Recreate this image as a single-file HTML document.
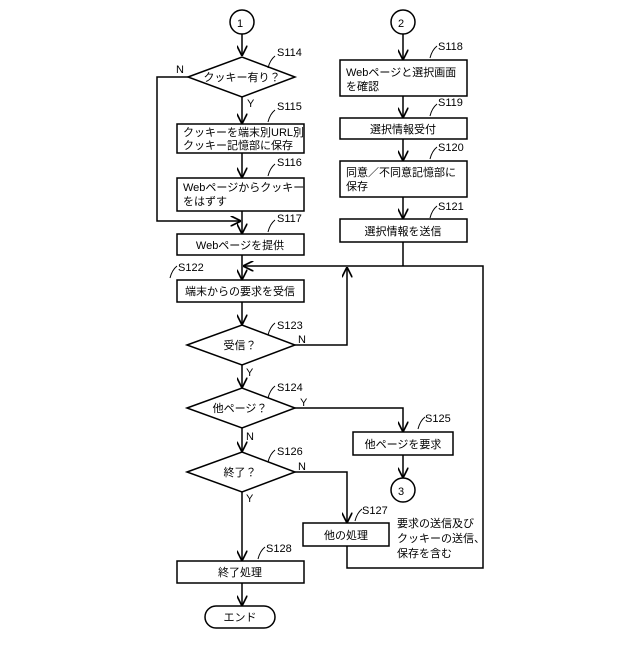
<!DOCTYPE html>
<html><head><meta charset="utf-8"><style>
html,body{margin:0;padding:0;background:#fff}
svg text{font-family:"Liberation Sans","Noto Sans CJK JP",sans-serif;font-size:11px;fill:#000}
</style></head><body>
<svg width="640" height="640" viewBox="0 0 640 640" xmlns="http://www.w3.org/2000/svg">
<defs><marker id="a" viewBox="0 0 10 10" refX="10" refY="5" markerWidth="7" markerHeight="7" orient="auto"><path d="M0,0 L10,5 L0,10" fill="none" stroke="#000" stroke-width="1.6"/></marker></defs>
<g fill="none" stroke="#000" stroke-width="1.5">
<!-- left column -->
<circle cx="242" cy="22" r="12"/>
<line x1="242" y1="34" x2="242" y2="56" marker-end="url(#a)"/>
<polygon points="188,77 242,57 295,77 242,97"/>
<line x1="242" y1="97" x2="242" y2="124" marker-end="url(#a)"/>
<rect x="177" y="124" width="127" height="29"/>
<line x1="242" y1="153" x2="242" y2="178" marker-end="url(#a)"/>
<rect x="177" y="178" width="127" height="33"/>
<polyline points="188,77 157,77 157,221 241,221" marker-end="url(#a)"/>
<line x1="242" y1="211" x2="242" y2="234" marker-end="url(#a)"/>
<rect x="177" y="234" width="127" height="21"/>
<line x1="242" y1="255" x2="242" y2="280" marker-end="url(#a)"/>
<rect x="177" y="280" width="127" height="22"/>
<line x1="242" y1="302" x2="242" y2="325" marker-end="url(#a)"/>
<polygon points="187,345 242,325 295,345 242,365"/>
<polyline points="295,345 347,345 347,267" marker-end="url(#a)"/>
<line x1="242" y1="365" x2="242" y2="388" marker-end="url(#a)"/>
<polygon points="187,408 242,388 295,408 242,428"/>
<polyline points="295,408 403,408 403,432" marker-end="url(#a)"/>
<rect x="353" y="432" width="100" height="23"/>
<line x1="403" y1="455" x2="403" y2="478" marker-end="url(#a)"/>
<circle cx="403" cy="490" r="12"/>
<line x1="242" y1="428" x2="242" y2="452" marker-end="url(#a)"/>
<polygon points="187,472 242,452 295,472 242,492"/>
<polyline points="295,472 347,472 347,523" marker-end="url(#a)"/>
<rect x="303" y="523" width="86" height="23"/>
<polyline points="347,546 347,568 483,568 483,266 243,266" marker-end="url(#a)"/>
<line x1="242" y1="492" x2="242" y2="561" marker-end="url(#a)"/>
<rect x="177" y="561" width="127" height="22"/>
<line x1="242" y1="583" x2="242" y2="606" marker-end="url(#a)"/>
<rect x="205" y="606" width="70" height="22" rx="11"/>
<!-- right column -->
<circle cx="403" cy="22" r="12"/>
<line x1="403" y1="34" x2="403" y2="60" marker-end="url(#a)"/>
<rect x="340" y="60" width="127" height="36"/>
<line x1="403" y1="96" x2="403" y2="118" marker-end="url(#a)"/>
<rect x="340" y="118" width="127" height="21"/>
<line x1="403" y1="139" x2="403" y2="161" marker-end="url(#a)"/>
<rect x="340" y="161" width="127" height="36"/>
<line x1="403" y1="197" x2="403" y2="219" marker-end="url(#a)"/>
<rect x="340" y="219" width="127" height="23"/>
<line x1="403" y1="242" x2="403" y2="266"/>
</g>
<g fill="none" stroke="#000" stroke-width="1">
<path d="M268,68 q2,-8 7,-12"/><path d="M268,122 q2,-8 7,-12"/><path d="M268,176 q2,-8 7,-12"/><path d="M268,232 q2,-8 7,-12"/>
<path d="M430,58 q2,-8 7,-12"/><path d="M430,116 q2,-8 7,-12"/><path d="M430,159 q2,-8 7,-12"/><path d="M430,218 q2,-8 7,-12"/>
<path d="M170,278 q2,-8 7,-12"/><path d="M268,335 q2,-8 7,-12"/><path d="M268,398 q2,-8 7,-12"/><path d="M418,429 q2,-8 7,-12"/>
<path d="M268,462 q2,-8 7,-12"/><path d="M355,521 q2,-8 7,-12"/><path d="M258,559 q2,-8 7,-12"/>
</g>
<g>
<text x="237" y="27">1</text><text x="398" y="27">2</text><text x="398" y="495">3</text>
<text x="277" y="56">S114</text><text x="277" y="110">S115</text><text x="277" y="166">S116</text><text x="277" y="222">S117</text>
<text x="438" y="50">S118</text><text x="438" y="106">S119</text><text x="438" y="151">S120</text><text x="438" y="210">S121</text>
<text x="178" y="271">S122</text><text x="277" y="329">S123</text><text x="277" y="391">S124</text><text x="425" y="422">S125</text>
<text x="277" y="455">S126</text><text x="362" y="514">S127</text><text x="266" y="552">S128</text>
<text x="176" y="73">N</text><text x="247" y="107">Y</text>
<text x="298" y="343">N</text><text x="246" y="376">Y</text>
<text x="300" y="406">Y</text><text x="246" y="440">N</text>
<text x="298" y="470">N</text><text x="246" y="502">Y</text>
<text x="242" y="81" text-anchor="middle">クッキー有り？</text>
<text x="183" y="136">クッキーを端末別URL別</text>
<text x="183" y="149">クッキー記憶部に保存</text>
<text x="183" y="191">Webページからクッキー</text>
<text x="183" y="205">をはずす</text>
<text x="240" y="249" text-anchor="middle">Webページを提供</text>
<text x="240" y="295" text-anchor="middle">端末からの要求を受信</text>
<text x="240" y="349" text-anchor="middle">受信？</text>
<text x="240" y="412" text-anchor="middle">他ページ？</text>
<text x="403" y="448" text-anchor="middle">他ページを要求</text>
<text x="240" y="476" text-anchor="middle">終了？</text>
<text x="346" y="539" text-anchor="middle">他の処理</text>
<text x="240" y="576" text-anchor="middle">終了処理</text>
<text x="240" y="621" text-anchor="middle">エンド</text>
<text x="346" y="76">Webページと選択画面</text>
<text x="346" y="90">を確認</text>
<text x="403" y="133" text-anchor="middle">選択情報受付</text>
<text x="346" y="176">同意／不同意記憶部に</text>
<text x="346" y="190">保存</text>
<text x="403" y="235" text-anchor="middle">選択情報を送信</text>
<text x="397" y="527">要求の送信及び</text>
<text x="397" y="542">クッキーの送信、</text>
<text x="397" y="557">保存を含む</text>
</g>
</svg>
</body></html>
